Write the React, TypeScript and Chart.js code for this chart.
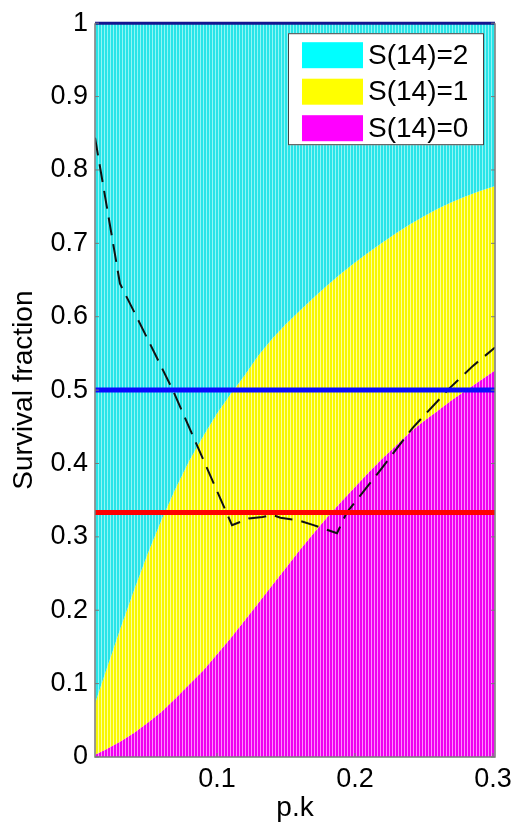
import React, { useEffect, useRef } from "react";
import { Chart, registerables } from "chart.js";

Chart.register(...registerables);

// ---- data ----
const X_MIN = 0.0116;
const X_MAX = 0.3015;

const pk = [
  0.0116, 0.02, 0.03, 0.04, 0.05, 0.06, 0.07, 0.08, 0.09, 0.1, 0.11, 0.12, 0.13, 0.14, 0.15,
  0.16, 0.17, 0.18, 0.19, 0.2, 0.21, 0.22, 0.23, 0.24, 0.25, 0.26, 0.27, 0.28, 0.29, 0.3, 0.3015,
];
// top of S(14)=0 band
const s0Top = [
  0.003, 0.011, 0.021, 0.033, 0.047, 0.062, 0.08, 0.099, 0.118, 0.14, 0.162, 0.186, 0.21, 0.234, 0.258,
  0.282, 0.305, 0.327, 0.348, 0.368, 0.388, 0.407, 0.425, 0.443, 0.458, 0.472, 0.486, 0.499, 0.512, 0.525, 0.527,
];
// top of S(14)=1 band
const s1Top = [
  0.073, 0.12, 0.175, 0.228, 0.278, 0.324, 0.366, 0.404, 0.437, 0.468, 0.495, 0.52, 0.547, 0.57, 0.59,
  0.608, 0.626, 0.643, 0.659, 0.674, 0.688, 0.701, 0.714, 0.726, 0.737, 0.747, 0.756, 0.764, 0.771, 0.777, 0.778,
];
// dashed curve
const dashX = [
  0.0116, 0.0297, 0.042, 0.068, 0.1109, 0.123, 0.133, 0.14, 0.146, 0.16, 0.17, 0.187, 0.194, 0.218, 0.242,
  0.2688, 0.2855, 0.3015,
];
const dashY = [
  0.844, 0.645, 0.599, 0.5, 0.316, 0.325, 0.327, 0.33, 0.326, 0.322, 0.316, 0.305, 0.333, 0.39, 0.449,
  0.503, 0.533, 0.558,
];
// horizontal reference lines
const refLevels = [1, 0.5, 1 / 3];
const refColors = ["#14148f", "#0a0aff", "#ff0000"];
const refWidths = [3, 5, 5];

const xTicks = [0.1, 0.2, 0.3];
const yTicks = [0, 0.1, 0.2, 0.3, 0.4, 0.5, 0.6, 0.7, 0.8, 0.9, 1];
const legendLabels = ["S(14)=2", "S(14)=1", "S(14)=0"];
const legendColors = ["#00ffff", "#ffff00", "#ff00ff"];

const FONT = "'Liberation Sans', Arial, Helvetica, sans-serif";

function stripe(base: string, light: string): CanvasPattern | string {
  const c = document.createElement("canvas");
  c.width = 3;
  c.height = 4;
  const g = c.getContext("2d");
  if (!g) return base;
  g.fillStyle = base;
  g.fillRect(0, 0, 3, 4);
  g.fillStyle = light;
  g.fillRect(2, 0, 1, 4);
  return g.createPattern(c, "repeat") || base;
}

const framePlugin = {
  id: "frame",
  afterDatasetsDraw(chart: any) {
    const { ctx, chartArea } = chart;
    const { left, right, top, bottom } = chartArea;
    const ys = chart.scales.y;
    const xs = chart.scales.x;
    ctx.save();
    ctx.strokeStyle = "#7a7a7a";
    ctx.lineWidth = 1.5;
    ctx.beginPath();
    ctx.moveTo(left, top);
    ctx.lineTo(left, bottom);
    ctx.lineTo(right, bottom);
    ctx.lineTo(right, top);
    ctx.stroke();
    ctx.lineWidth = 1;
    ctx.beginPath();
    for (const v of yTicks) {
      const py = ys.getPixelForValue(v);
      ctx.moveTo(left, py);
      ctx.lineTo(left + 4, py);
      ctx.moveTo(right, py);
      ctx.lineTo(right - 4, py);
    }
    for (const v of xTicks) {
      const px = xs.getPixelForValue(v);
      ctx.moveTo(px, bottom);
      ctx.lineTo(px, bottom - 4);
    }
    ctx.stroke();
    ctx.restore();
  },
};

const legendPlugin = {
  id: "boxLegend",
  afterDraw(chart: any) {
    const { ctx, chartArea } = chart;
    const bw = 196;
    const bh = 112;
    const bx = chartArea.right - 11 - bw;
    const by = chartArea.top + 10;
    ctx.save();
    ctx.fillStyle = "#ffffff";
    ctx.fillRect(bx, by, bw, bh);
    ctx.strokeStyle = "#444444";
    ctx.lineWidth = 1;
    ctx.strokeRect(bx + 0.5, by + 0.5, bw - 1, bh - 1);
    ctx.font = `28px ${FONT}`;
    ctx.textBaseline = "middle";
    ctx.textAlign = "left";
    legendLabels.forEach((lab, i) => {
      const sy = by + 9 + i * 36.5;
      ctx.fillStyle = legendColors[i];
      ctx.fillRect(bx + 14, sy, 61, 26);
      ctx.fillStyle = "#000000";
      ctx.fillText(lab, bx + 80, sy + 14);
    });
    ctx.restore();
  },
};

export default function App() {
  const ref = useRef<HTMLCanvasElement | null>(null);

  useEffect(() => {
    if (!ref.current) return;
    const magPat = stripe("#f000f0", "#ff8cff");
    const yelPat = stripe("#f8f800", "#ffff9a");
    const cyaPat = stripe("#28e4e8", "#8ff6f6");

    const pts = (ys: number[]) => pk.map((x, i) => ({ x, y: ys[i] }));

    const datasets: any[] = [
      {
        data: pts(s0Top),
        fill: "origin",
        backgroundColor: magPat,
        borderColor: "transparent",
        borderWidth: 0,
        pointRadius: 0,
        order: 10,
      },
      {
        data: pts(s1Top),
        fill: "-1",
        backgroundColor: yelPat,
        borderColor: "transparent",
        borderWidth: 0,
        pointRadius: 0,
        order: 9,
      },
      {
        data: pts(s1Top),
        fill: "end",
        backgroundColor: cyaPat,
        borderColor: "transparent",
        borderWidth: 0,
        pointRadius: 0,
        order: 8,
      },
      {
        data: dashX.map((x, i) => ({ x, y: dashY[i] })),
        fill: false,
        borderColor: "#111111",
        borderWidth: 2,
        borderDash: [18, 9],
        pointRadius: 0,
        order: 1,
      },
      ...refLevels.map((lv, i) => ({
        data: [
          { x: X_MIN, y: lv },
          { x: X_MAX, y: lv },
        ],
        fill: false,
        borderColor: refColors[i],
        borderWidth: refWidths[i],
        pointRadius: 0,
        clip: false,
        order: 0,
      })),
    ];

    const chart = new Chart(ref.current, {
      type: "line",
      data: { datasets },
      options: {
        animation: false,
        responsive: false,
        events: [],
        layout: { padding: { top: 22, right: 19, left: 0, bottom: 0 } },
        plugins: { legend: { display: false }, tooltip: { enabled: false } },
        elements: { line: { tension: 0 } },
        scales: {
          x: {
            type: "linear",
            min: X_MIN,
            max: X_MAX,
            grid: { display: false, drawTicks: false },
            border: { display: false },
            afterBuildTicks: (s: any) => {
              s.ticks = xTicks.map((v) => ({ value: v }));
            },
            afterFit: (s: any) => {
              s.height = 71;
              s.paddingLeft = 0;
              s.paddingRight = 0;
            },
            ticks: {
              font: { family: FONT, size: 27 },
              color: "#000",
              padding: 6,
              maxRotation: 0,
              autoSkip: false,
              callback: (v: any) => String(v),
            },
            title: {
              display: true,
              text: "p.k",
              font: { family: FONT, size: 28 },
              color: "#000",
              padding: { top: 0, bottom: 3 },
            },
          },
          y: {
            type: "linear",
            min: 0,
            max: 1,
            grid: { display: false, drawTicks: false },
            border: { display: false },
            afterBuildTicks: (s: any) => {
              s.ticks = yTicks.map((v) => ({ value: v }));
            },
            afterFit: (s: any) => {
              s.width = 95;
            },
            ticks: {
              font: { family: FONT, size: 27 },
              color: "#000",
              padding: 7,
              autoSkip: false,
              callback: (v: any) => String(v),
            },
            title: {
              display: true,
              text: "Survival fraction",
              font: { family: FONT, size: 28 },
              color: "#000",
              padding: { top: 7, bottom: 0 },
            },
          },
        },
      },
      plugins: [framePlugin, legendPlugin],
    } as any);

    return () => chart.destroy();
  }, []);

  return (
    <div style={{ position: "fixed", left: 0, top: 0, width: 514, height: 828, background: "#fff" }}>
      <canvas ref={ref} width={514} height={828} style={{ display: "block" }} />
    </div>
  );
}
